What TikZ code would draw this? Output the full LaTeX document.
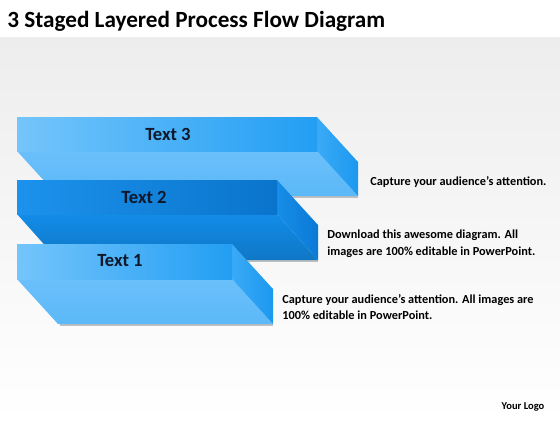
\documentclass[tikz,border=0pt]{standalone}
\usepackage{fontspec}
\setmainfont{Carlito}
\usetikzlibrary{positioning}

\definecolor{bggray}{HTML}{EDEDED}
\definecolor{paleleft}{HTML}{74C5FB}
\definecolor{paleright}{HTML}{229EF3}
\definecolor{palebottom}{HTML}{5CB8F8}
\definecolor{paleside}{HTML}{3AAAF6}
\definecolor{palesidedark}{HTML}{1C98EF}
\definecolor{deepleft}{HTML}{1C92EC}
\definecolor{deepright}{HTML}{0A74CC}
\definecolor{deepbottom}{HTML}{128CE8}
\definecolor{deepside}{HTML}{168DE8}
\definecolor{deepsidedark}{HTML}{0B7AD6}
\definecolor{labelink}{HTML}{10182A}

\begin{document}
\begin{tikzpicture}[x=0.02cm,y=-0.02cm]
    \tikzstyle{layertext}=[font=\bfseries\fontsize{10.6}{12}\selectfont,text=labelink]
    \tikzstyle{note}=[font=\bfseries\fontsize{7}{9.6}\selectfont,align=left,anchor=west,inner sep=0pt]
    \tikzstyle{shadowline}=[black!25,line width=1.2pt]
    \useasboundingbox (0,0) rectangle (560,420);
    \fill[white] (0,0) rectangle (560,420);
    \shade[top color=bggray,bottom color=white] (0,37) rectangle (560,420);
    \node[anchor=base west,inner sep=0pt,font=\bfseries\fontsize{13.2}{16}\selectfont] (title) at (7,27) {3 Staged Layered Process Flow Diagram};

    % layer 3
    \draw[shadowline] (60,197) -- (358,197);
    \shade[top color=paleleft!60!palebottom,bottom color=palebottom] (17,151) -- (317,151) -- (358,196) -- (58,196) -- cycle;
    \shade[left color=paleside,right color=palesidedark] (317,117) -- (358,162) -- (358,196) -- (317,151) -- cycle;
    \shade[left color=paleleft,right color=paleright] (17,117) rectangle (317,151);
    \node[layertext] (text3) at (168,134) {Text 3};

    % layer 2
    \draw[shadowline] (60,261) -- (318,261);
    \shade[top color=deepbottom,bottom color=deepbottom!85!black] (17,214) -- (277,214) -- (318,260) -- (58,260) -- cycle;
    \shade[left color=deepside,right color=deepsidedark] (277,180) -- (318,225) -- (318,260) -- (277,214) -- cycle;
    \shade[left color=deepleft,right color=deepright] (17,180) rectangle (277,214);
    \node[layertext] (text2) at (144,197) {Text 2};

    % layer 1
    \draw[shadowline] (60,325) -- (273,325);
    \shade[top color=paleleft!60!palebottom,bottom color=palebottom] (17,279) -- (232,279) -- (273,324) -- (58,324) -- cycle;
    \shade[left color=paleside,right color=palesidedark] (232,244) -- (273,289) -- (273,324) -- (232,279) -- cycle;
    \shade[left color=paleleft,right color=paleright] (17,244) rectangle (232,279);
    \node[layertext] (text1) at (120,261) {Text 1};

    \node[note] (note3) at (370,182) {Capture your audience’s attention.};
    \node[note] (note2) at (327,243.5) {Download this awesome diagram. All\\images are 100\% editable in PowerPoint.};
    \node[note] (note1) at (282,307) {Capture your audience’s attention. All images are\\100\% editable in PowerPoint.};
    \node[font=\bfseries\fontsize{6}{8}\selectfont,inner sep=0pt] (logo) at (523,407) {Your Logo};
\end{tikzpicture}
\end{document}
